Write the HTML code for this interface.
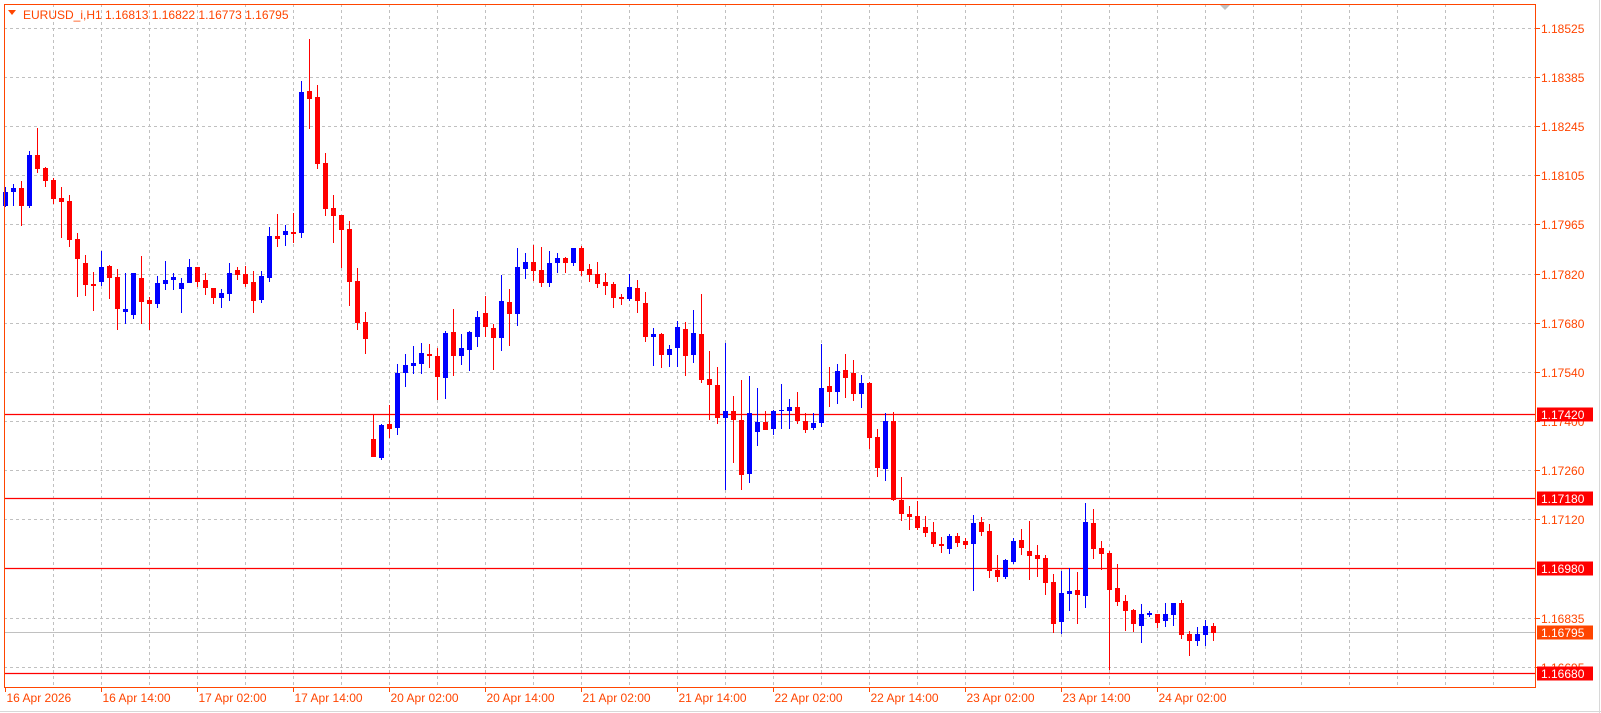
<!DOCTYPE html>
<html><head><meta charset="utf-8"><style>
html,body{margin:0;padding:0;background:#fff;width:1601px;height:713px;overflow:hidden}
svg{display:block}
text{font-family:"Liberation Sans",sans-serif}
</style></head><body>
<svg id="c" width="1601" height="713" xmlns="http://www.w3.org/2000/svg"></svg>
<script>
var D=[
"b 192 206 187 207","b 188 192 184 206","r 188 206 181 226","b 155 206 151 208","r 155 169 128 173","r 168 181 167 187","r 180 199 178 204","r 198 202 187 238","r 201 240 195 247","r 239 259 233 297",
"r 263 285 255 296","r 284 286 272 311","b 267 282 251 286","r 266 278 265 299","r 277 309 269 330","b 309 312 273 324","b 273 315 273 319","r 278 302 256 324","r 300 304 297 330","b 283 304 276 308",
"b 280 284 261 290","b 277 280 273 290","b 283 289 278 313","b 267 283 259 283","r 267 282 267 287","r 280 288 273 295","r 288 298 288 304","b 293 298 289 308","b 273 294 263 301","r 270 275 267 280",
"r 274 284 266 287","r 282 301 271 313","b 276 300 271 303","b 236 278 227 282","r 236 239 214 247","b 231 235 225 246","r 232 234 213 243","b 92 233 81 238","r 91 99 39 129","r 97 164 85 169",
"r 163 209 153 216","r 208 216 195 243","r 215 230 215 268","r 229 282 221 306","r 281 323 268 330","r 322 339 312 354","r 439 457 414 457","b 425 458 424 460","r 424 429 405 438","b 373 428 364 435",
"b 365 373 354 387","b 363 366 346 374","b 353 364 343 374","r 354 356 344 368","r 356 377 348 400","b 333 378 331 399","r 332 356 309 376","b 348 356 334 365","b 332 350 331 371","b 317 337 311 347",
"r 313 327 296 337","r 328 338 324 370","b 301 338 275 351","r 302 314 289 346","b 267 314 248 326","b 262 269 253 279","r 262 271 245 281","r 270 283 247 287","b 263 283 251 287","b 258 263 253 273",
"r 258 263 257 273","b 248 263 248 266","r 248 271 246 276","r 269 275 264 282","r 274 284 262 288","r 282 286 273 295","r 284 298 282 308","r 297 299 294 305","b 287 299 274 301","r 288 301 280 313",
"r 303 337 292 342","b 334 337 328 366","r 334 355 333 368","b 349 355 345 367","b 327 348 321 367","r 329 356 322 376","b 333 355 310 363","r 334 380 294 383","r 379 385 351 420","r 385 418 367 424",
"b 411 418 343 490","r 411 420 396 463","r 420 475 380 490","b 413 474 376 483","b 422 432 388 446","r 422 430 411 430","b 411 429 410 435","b 410 411 384 429","b 407 411 399 429","r 407 421 392 424",
"r 421 430 413 433","b 423 428 413 430","b 388 423 344 427","r 386 392 367 407","b 371 392 364 404","r 370 378 354 398","r 373 394 360 401","b 383 394 375 408","r 383 438 382 449","r 437 468 429 477",
"b 421 469 413 481","r 421 500 412 501","r 500 514 477 521","r 514 517 506 530","r 516 528 501 530","r 527 533 516 537","r 532 544 522 547","r 544 546 537 553","b 536 549 534 554","r 536 543 533 547",
"r 541 545 538 549","b 523 544 515 591","r 522 532 517 536","r 531 571 524 578","r 570 577 555 582","b 560 577 559 579","b 541 562 538 564","r 540 548 529 555","r 551 556 521 580","r 555 559 545 577",
"r 558 583 555 595","r 582 624 574 633","b 593 622 571 634","b 591 594 568 611","r 590 595 572 624","b 522 596 503 608","r 523 549 509 559","r 548 554 541 570","r 553 590 551 670","r 588 602 564 606",
"r 601 611 595 631","r 610 624 609 632","b 614 626 604 643","b 613 615 611 617","r 614 623 614 628","b 614 621 603 627","b 603 615 603 626","r 603 635 600 639","r 634 641 631 656","b 634 641 627 646",
"b 626 635 620 646","r 626 633 623 641"];
var OR="#ff4500",s='';
var L=4,R=1535,T=4,B=687;
function Y(p){return 667-(p-1.16695)*34918;}
var gp=[1.18525,1.18385,1.18245,1.18105,1.17965,1.17820,1.17680,1.17540,1.17400,1.17260,1.17120,1.16835,1.16695];
gp.forEach(function(p){var y=Math.round(Y(p))+0.5;
 s+='<line x1="'+L+'" x2="'+R+'" y1="'+y+'" y2="'+y+'" stroke="#c0c0c0" stroke-dasharray="3,3"/>';
 s+='<line x1="'+R+'" x2="'+(R+5)+'" y1="'+y+'" y2="'+y+'" stroke="'+OR+'"/>';
 s+='<text x="1541" y="'+(y+4.5)+'" font-size="12" fill="'+OR+'">'+p.toFixed(5)+'</text>';});
for(var k=0;k<31;k++){var x=53.5+48*k;if(x>R)break;
 s+='<line x1="'+x+'" x2="'+x+'" y1="'+T+'" y2="'+B+'" stroke="#c0c0c0" stroke-dasharray="3,3"/>';}
s+='<line x1="'+L+'" x2="'+R+'" y1="632.5" y2="632.5" stroke="#c0c0c0"/>';
[[1.17420,414],[1.17180,498],[1.16980,568],[1.16680,673]].forEach(function(a){
 s+='<line x1="'+L+'" x2="'+R+'" y1="'+(a[1]+0.5)+'" y2="'+(a[1]+0.5)+'" stroke="#ff0000" stroke-width="1.3"/>';});
D.forEach(function(d,i){var a=d.split(' ');var c=a[0]=='b'?'#0000ff':'#ff0000';
 var bt=+a[1],bb=+a[2],wt=+a[3],wb=+a[4];var cx=5+8*i;
 s+='<rect x="'+cx+'" y="'+wt+'" width="1" height="'+Math.max(1,wb-wt)+'" fill="'+c+'"/>';
 s+='<rect x="'+(cx-2)+'" y="'+bt+'" width="5" height="'+Math.max(1,bb-bt)+'" fill="'+c+'"/>';});
s+='<rect x="'+(L+0.5)+'" y="'+(T+0.5)+'" width="'+(R-L)+'" height="'+(B-T)+'" fill="none" stroke="'+OR+'"/>';
[[1.17420,414,'#ff0000'],[1.17180,498,'#ff0000'],[1.16980,568,'#ff0000'],[1.16795,632,OR],[1.16680,673,'#ff0000']].forEach(function(a){
 s+='<rect x="1537" y="'+(a[1]-6.5)+'" width="56" height="14" fill="'+a[2]+'"/>';
 s+='<text x="1541" y="'+(a[1]+5)+'" font-size="12" fill="#fff">'+a[0].toFixed(5)+'</text>';});
var labs=["16 Apr 2026","16 Apr 14:00","17 Apr 02:00","17 Apr 14:00","20 Apr 02:00","20 Apr 14:00","21 Apr 02:00","21 Apr 14:00","22 Apr 02:00","22 Apr 14:00","23 Apr 02:00","23 Apr 14:00","24 Apr 02:00"];
labs.forEach(function(t,k){var x=5.5+96*k;
 s+='<line x1="'+x+'" x2="'+x+'" y1="'+B+'" y2="'+(B+5)+'" stroke="'+OR+'"/>';
 s+='<text x="'+(x+1)+'" y="702" font-size="12" fill="'+OR+'">'+t+'</text>';});
s+='<polygon points="8,10 16,10 12,15" fill="'+OR+'"/>';
s+='<text x="23" y="19" font-size="12" fill="'+OR+'">EURUSD_i,H1</text>';
s+='<text x="105" y="19" font-size="12" fill="'+OR+'">1.16813 1.16822 1.16773 1.16795</text>';
s+='<polygon points="1220,5 1230,5 1225,10" fill="#c0c0c0"/>';
s+='<line x1="0" x2="1601" y1="711.5" y2="711.5" stroke="#d8d8d8"/><line x1="1599.5" x2="1599.5" y1="0" y2="713" stroke="#d8d8d8"/>';
document.getElementById('c').innerHTML=s;
</script>
</body></html>
